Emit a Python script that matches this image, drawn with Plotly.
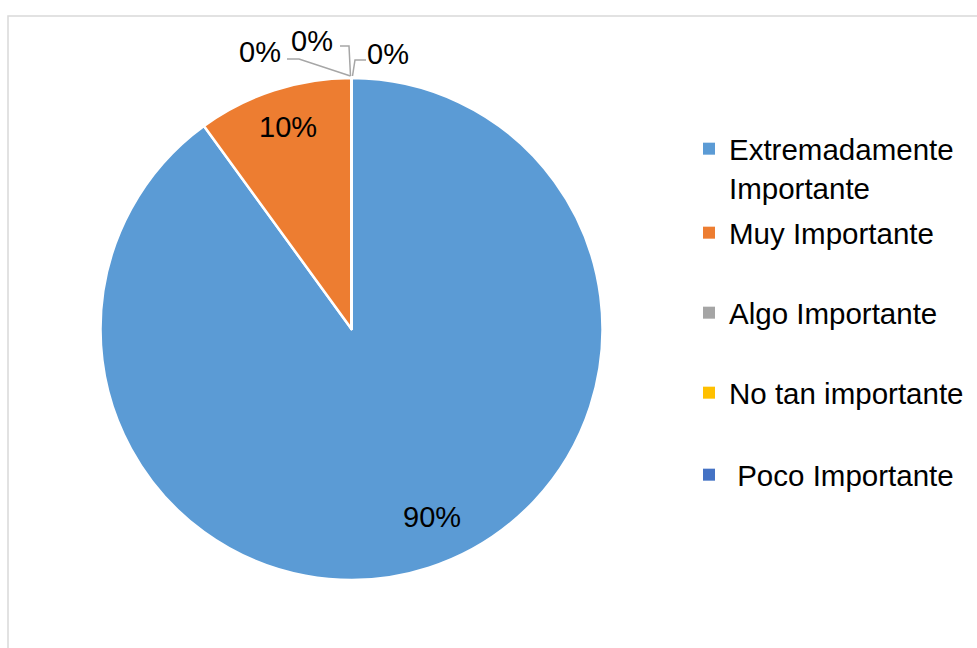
import plotly.graph_objects as go

W, H = 977, 648

categories = ["Extremadamente<br>Importante", "Muy Importante", "Algo Importante",
              "No tan importante", "\u00a0Poco Importante"]
values = [90, 10, 0, 0, 0]
pct_labels = ["90%", "10%", "0%", "0%", "0%"]
colors = ["#5B9BD5", "#ED7D31", "#A5A5A5", "#FFC000", "#4472C4"]

FONT = "Liberation Sans, Arial, sans-serif"
FS = 29
LFS = 29.5

# pie geometry in pixels
cx, cy, r = 351.5, 329, 251

def px(x):
    return x / W

def py(y):
    return 1 - y / H

fig = go.Figure()

fig.add_trace(go.Pie(
    labels=categories,
    values=values,
    textinfo="none",
    marker=dict(colors=colors, line=dict(color="white", width=2.5)),
    sort=False,
    direction="clockwise",
    rotation=0,
    showlegend=False,
    hoverinfo="label+percent",
    domain=dict(x=[px(cx - r), px(cx + r)], y=[py(cy + r), py(cy - r)]),
))

# legend entries (one legend per entry so spacing follows the reference)
legend_centers = [168, 233, 313, 393, 475]
legend_names = ["legend", "legend2", "legend3", "legend4", "legend5"]
for name, col, lg in zip(categories, colors, legend_names):
    fig.add_trace(go.Scatter(
        x=[None], y=[None], mode="markers", name=name,
        marker=dict(symbol="square", size=12, color=col),
        legend=lg, showlegend=True, hoverinfo="skip",
    ))

legend_x = px(729 - 40)
layout_legends = {}
for lg, yc in zip(legend_names, legend_centers):
    layout_legends[lg] = dict(
        x=legend_x, xanchor="left", y=py(yc), yanchor="middle",
        font=dict(family=FONT, size=LFS, color="black"),
        bgcolor="rgba(0,0,0,0)", borderwidth=0,
        valign="top", itemsizing="trace", itemclick=False, itemdoubleclick=False,
    )

annotations = []
shapes = []

# labels for the non-zero slices
inside_pos = [(432, 517), (288, 127)]
for t, (x, y) in zip(pct_labels[:2], inside_pos):
    annotations.append(dict(
        text=t, x=px(x), y=py(y), xref="paper", yref="paper",
        xanchor="center", yanchor="middle", showarrow=False,
        font=dict(family=FONT, size=FS, color="black"),
    ))

# zero-value labels with leader lines to the top of the pie
top_x, top_y = cx, cy - r
zero_labels = [
    dict(text=pct_labels[2], x=260, y=52, path=[(287, 59), (299, 59), (top_x - 1, top_y - 2)]),
    dict(text=pct_labels[3], x=312, y=41, path=[(340, 46), (349, 46), (top_x - 1, top_y - 2)]),
    dict(text=pct_labels[4], x=388, y=54, path=[(366, 60), (355, 60), (top_x + 1, top_y - 2)]),
]
for z in zero_labels:
    annotations.append(dict(
        text=z["text"], x=px(z["x"]), y=py(z["y"]), xref="paper", yref="paper",
        xanchor="center", yanchor="middle", showarrow=False,
        font=dict(family=FONT, size=FS, color="black"),
    ))
    pts = z["path"]
    d = "M {} {}".format(px(pts[0][0]), py(pts[0][1]))
    for (x, y) in pts[1:]:
        d += " L {} {}".format(px(x), py(y))
    shapes.append(dict(type="path", path=d, xref="paper", yref="paper",
                       line=dict(color="#A6A6A6", width=1.5)))

# chart area border
shapes.append(dict(type="rect", xref="paper", yref="paper",
                   x0=px(8), x1=px(W + 5), y0=py(H + 5), y1=py(16),
                   line=dict(color="#D9D9D9", width=1.5), fillcolor="rgba(0,0,0,0)"))

fig.update_layout(
    width=W, height=H,
    margin=dict(l=0, r=0, t=0, b=0),
    paper_bgcolor="white", plot_bgcolor="white",
    xaxis=dict(visible=False), yaxis=dict(visible=False),
    annotations=annotations,
    shapes=shapes,
    **layout_legends,
)

fig.write_html("out.html")
